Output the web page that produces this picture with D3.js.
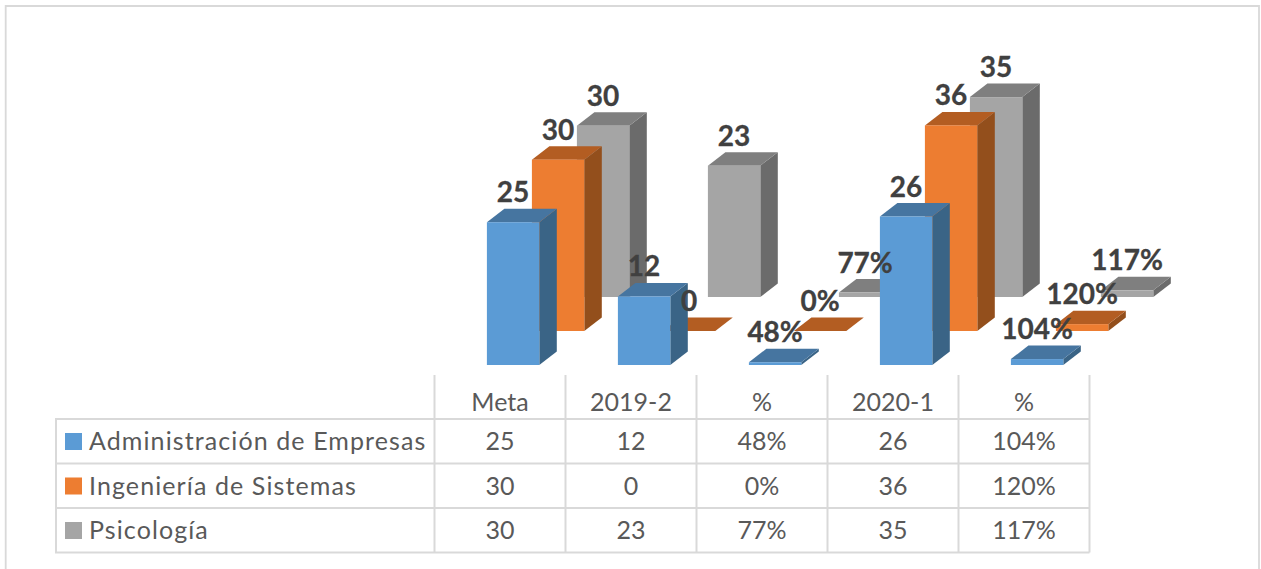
<!DOCTYPE html>
<html>
<head>
<meta charset="utf-8">
<script src="https://cdnjs.cloudflare.com/ajax/libs/d3/7.8.5/d3.min.js"></script>
<style>
  html, body { margin: 0; padding: 0; background: #fff; }
  svg { display: block; }
  text { font-family: Lato, "Open Sans", sans-serif; }
  .bar-label { font-size: 28px; font-weight: 700; fill: #404040; stroke: #404040; stroke-width: 0.3px; text-anchor: middle; }
  .cell { font-size: 25px; fill: #595959; text-anchor: middle; }
  .row-name { font-size: 25px; fill: #595959; letter-spacing: 1.1px; }
</style>
</head>
<body>
<svg id="canvas"></svg>
<script>
const categories = ["Meta", "2019-2", "%", "2020-1", "%"];
const isPercent = [false, false, true, false, true];
const seriesNames = ["Administración de Empresas", "Ingeniería de Sistemas", "Psicología"];
const admin = [25, 12, 0.48, 26, 1.04];
const sistemas = [30, 0, 0, 36, 1.2];
const psicologia = [30, 23, 0.77, 35, 1.17];
const seriesValues = [admin, sistemas, psicologia];
const front = ["#5b9bd5", "#ed7d31", "#a5a5a5"];
const top3d = ["#4675a0", "#b35d22", "#7f7f7f"];
const side = ["#3a6486", "#934f1c", "#6b6b6b"];

var w = 1261;
var h = 569;
var svg = d3.select("#canvas").attr("width", w).attr("height", h);

// table columns double as the category axis
var x = d3.scaleBand().domain(d3.range(categories.length)).range([434.5, 1089.5]);
var y = d3.scaleLinear().domain([0, 36]).range([0, 205.6]);
// each series steps back into the picture
var depthX = d3.scalePoint().domain(d3.range(3)).range([0, 90]);
var depthY = d3.scalePoint().domain(d3.range(3)).range([365, 297]);
const barWidth = x.step() * 0.4;
const barInset = x.step() * 0.4;
const sideX = 17.5;
const sideY = 13.5;

const fmt = (v, i) => isPercent[i] ? d3.format(".0%")(v) : String(v);
const barLeft = (s, i) => x(i) + barInset + depthX(s);

// outer frame
svg.append("path")
    .attr("d", "M5.7," + h + "V6H1259V" + h)
    .attr("fill", "none")
    .attr("stroke", "#d9d9d9")
    .attr("stroke-width", 1.8);

// bars, back series first
for (let s = 2; s >= 0; s--) {
    var g = svg.append("g").attr("class", "series");
    seriesValues[s].forEach((v, i) => {
        var x0 = barLeft(s, i);
        var x1 = x0 + barWidth;
        var y0 = depthY(s);
        var y1 = y0 - y(v);
        g.append("path")
            .attr("fill", side[s])
            .attr("d", d3.line()([[x1, y0], [x1 + sideX, y0 - sideY], [x1 + sideX, y1 - sideY], [x1, y1]]));
        g.append("path")
            .attr("fill", top3d[s])
            .attr("d", d3.line()([[x0, y1], [x0 + sideX, y1 - sideY], [x1 + sideX, y1 - sideY], [x1, y1]]));
        g.append("rect")
            .attr("x", x0)
            .attr("y", y1)
            .attr("width", barWidth)
            .attr("height", y(v))
            .attr("fill", front[s]);
    });
}

// data labels sit on top of every bar
for (let s = 2; s >= 0; s--) {
    svg.append("g").selectAll("text")
        .data(seriesValues[s])
        .enter()
        .append("text")
        .attr("class", "bar-label")
        .attr("x", (d, i) => barLeft(s, i) + barWidth / 2)
        .attr("y", (d) => depthY(s) - y(d) - 20)
        .text((d, i) => fmt(d, i));
}

// data table
const rowLines = [419, 463.5, 508, 552.5];
var grid = svg.append("g").attr("stroke", "#d9d9d9").attr("stroke-width", 2);
rowLines.forEach((ry) => {
    grid.append("line").attr("x1", 55).attr("x2", 1089.5).attr("y1", ry).attr("y2", ry);
});
grid.append("line").attr("x1", 56).attr("x2", 56).attr("y1", rowLines[0]).attr("y2", rowLines[3]);
d3.range(categories.length + 1).forEach((i) => {
    var lx = i < categories.length ? x(i) : x.range()[1];
    grid.append("line").attr("x1", lx).attr("x2", lx).attr("y1", 375).attr("y2", rowLines[3]);
});

svg.append("g").selectAll("text")
    .data(categories)
    .enter()
    .append("text")
    .attr("class", "cell")
    .attr("x", (d, i) => x(i) + x.bandwidth() / 2)
    .attr("y", 411)
    .text((d) => d);

seriesNames.forEach((name, s) => {
    var base = rowLines[s] + 31;
    svg.append("rect")
        .attr("x", 65).attr("y", base - 17)
        .attr("width", 17).attr("height", 17)
        .attr("fill", front[s]);
    svg.append("text")
        .attr("class", "row-name")
        .attr("x", 89)
        .attr("y", base)
        .text(name);
    svg.append("g").selectAll("text")
        .data(seriesValues[s])
        .enter()
        .append("text")
        .attr("class", "cell")
        .attr("x", (d, i) => x(i) + x.bandwidth() / 2)
        .attr("y", base)
        .text((d, i) => fmt(d, i));
});
</script>
</body>
</html>
